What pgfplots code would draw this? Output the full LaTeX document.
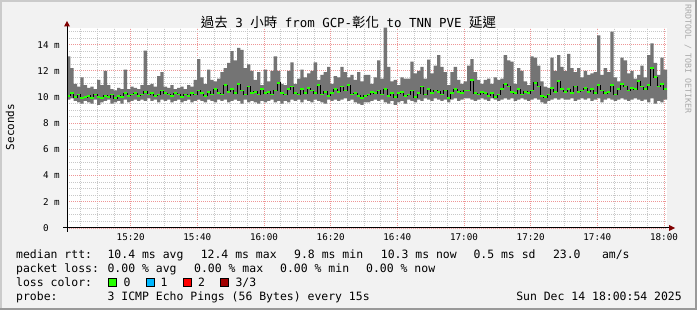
\documentclass[border=0pt]{standalone}
\usepackage{pgfplots}
\pgfplotsset{compat=1.18}
\usepackage{pgfplotstable}
\usepackage{fontspec}
\setmainfont{DejaVu Sans Mono}
\newfontfamily\cjk{Noto Sans CJK TC}
\definecolor{bgc}{HTML}{F2F2F2}
\definecolor{shadea}{HTML}{CBCBCB}
\definecolor{shadeb}{HTML}{999999}
\definecolor{mgrid}{RGB}{238,150,150}
\definecolor{ngrid}{RGB}{200,200,200}
\definecolor{smoke}{HTML}{747474}
\definecolor{lgreen}{HTML}{26FF00}
\definecolor{lblue}{HTML}{00B8FF}
\definecolor{lred}{HTML}{FF0000}
\definecolor{ldred}{HTML}{A10000}
\definecolor{arrowc}{HTML}{800000}
\definecolor{wmark}{HTML}{AAAAAA}
\newcommand\cj[1]{{\cjk\fontsize{13.5}{15}\selectfont #1}}
\newcommand\legf{\fontsize{11.5}{13}\selectfont}

\pgfplotstableread{
x lo hi med
0.9 9.8 13.1 10.1
1.9 9.9 12.2 10.3
2.9 9.7 11.0 10.0
3.9 9.6 10.8 10.2
4.9 9.5 11.5 9.9
5.9 9.7 10.9 10.0
6.9 9.6 10.7 10.1
7.9 9.5 10.8 9.9
8.9 9.8 10.6 10.2
9.9 9.4 11.3 10.0
10.9 9.6 10.9 9.9
11.9 9.7 12.0 10.1
12.9 9.8 10.9 10.0
13.9 9.5 10.6 10.2
14.9 9.6 10.5 9.9
15.9 9.7 10.7 10.1
16.9 9.5 10.6 10.0
17.9 9.8 12.1 10.3
18.9 9.6 10.6 10.1
19.9 9.7 10.8 10.2
20.9 9.8 10.7 10.3
21.9 9.7 10.6 10.1
22.9 9.8 10.9 10.2
23.9 9.7 13.55 10.4
24.9 9.9 10.9 10.2
25.9 9.7 11.0 10.3
26.9 9.8 10.8 10.1
27.9 9.6 11.6 10.2
28.9 9.8 11.9 10.5
29.9 9.7 10.8 10.3
30.9 9.8 10.7 10.2
31.9 9.6 10.9 10.1
32.9 9.7 10.6 10.3
33.9 9.8 10.7 10.2
34.9 9.6 10.8 10.0
35.9 9.7 10.6 10.2
36.9 9.8 10.9 10.1
37.9 9.6 10.8 10.3
38.9 9.7 11.3 10.2
39.9 9.8 12.9 10.5
40.9 9.7 11.5 10.3
41.9 9.6 11.0 10.1
42.9 9.8 12.1 10.4
43.9 9.7 11.3 10.2
44.9 9.6 11.2 10.6
45.9 9.8 11.4 10.3
46.9 9.7 11.9 10.2
47.9 9.8 12.2 10.9
48.9 9.6 12.6 10.4
49.9 9.7 13.5 10.6
50.9 9.8 12.8 10.3
51.9 9.7 13.75 11.0
52.9 9.5 13.6 10.5
53.9 9.8 12.2 10.2
54.9 9.6 12.5 10.8
55.9 9.7 12.0 10.3
56.9 9.6 11.3 10.4
57.9 9.5 11.9 10.2
58.9 9.7 10.9 10.6
59.9 9.6 12.1 10.3
60.9 9.7 11.2 10.4
61.9 9.8 12.0 10.2
62.9 9.6 13.1 10.5
63.9 9.7 12.0 11.1
64.9 9.5 11.0 10.3
65.9 9.7 10.9 10.2
66.9 9.6 12.0 10.6
67.9 9.8 12.65 10.8
68.9 9.7 11.0 10.3
69.9 9.8 11.4 10.2
70.9 9.6 12.1 10.6
71.9 9.8 11.5 10.3
72.9 9.7 11.8 10.7
73.9 9.6 12.0 10.5
74.9 9.8 12.65 10.3
75.9 9.7 11.3 10.9
76.9 9.6 11.7 10.2
77.9 9.5 11.9 10.4
78.9 9.8 12.3 10.1
79.9 9.7 11.0 10.3
80.9 9.8 11.6 10.6
81.9 9.7 11.5 10.4
82.9 9.8 12.3 10.8
83.9 9.9 11.9 10.5
84.9 9.7 11.5 10.9
85.9 9.8 11.7 10.2
86.9 9.6 11.3 10.3
87.9 9.5 11.9 10.1
88.9 9.4 11.2 9.9
89.9 9.6 11.7 10.1
90.9 9.6 11.7 10.2
91.9 9.7 11.0 10.4
92.9 9.8 11.5 10.3
93.9 9.7 12.8 10.5
94.9 9.8 11.4 10.2
95.9 9.6 15.3 10.6
96.9 9.5 12.3 10.1
97.9 9.7 11.2 10.3
98.9 9.4 11.3 10.0
99.9 9.6 10.9 10.3
100.9 9.7 11.5 10.4
101.9 9.5 11.4 10.1
102.9 9.8 11.4 10.2
103.9 9.7 12.7 10.5
104.9 9.6 11.8 10.0
105.9 9.8 12.0 10.3
106.9 9.7 12.3 10.8
107.9 9.9 11.4 10.2
108.9 9.8 12.85 10.6
109.9 9.7 11.8 10.3
110.9 9.9 12.4 10.5
111.9 9.8 13.2 10.4
112.9 9.7 12.3 10.2
113.9 9.8 11.9 10.5
114.9 9.6 10.9 9.9
115.9 9.8 11.9 10.3
116.9 9.9 12.3 10.6
117.9 9.7 11.3 10.4
118.9 9.8 11.0 10.3
119.9 9.9 11.2 10.5
120.9 9.9 12.4 10.5
121.9 9.8 12.9 11.3
122.9 9.7 11.9 10.3
123.9 9.8 11.3 10.2
124.9 9.9 11.0 10.4
125.9 9.8 11.3 10.3
126.9 9.7 11.4 10.1
127.9 9.9 11.0 10.3
128.9 9.8 11.5 10.0
129.9 9.7 11.3 10.2
130.9 9.8 11.4 10.6
131.9 9.9 13.2 11.0
132.9 9.8 12.8 10.8
133.9 9.9 12.7 10.4
134.9 9.7 11.0 10.3
135.9 9.8 12.2 10.6
136.9 9.9 12.0 10.2
137.9 9.8 11.2 10.4
138.9 9.7 10.9 10.3
139.9 9.8 13.1 10.5
140.9 9.9 13.0 11.1
141.9 9.8 12.4 10.8
142.9 9.6 11.2 10.1
143.9 9.5 10.8 10.0
144.9 9.7 10.7 10.2
145.9 9.8 13.0 10.7
146.9 9.9 12.0 10.4
147.9 9.8 13.2 11.2
148.9 9.9 12.3 10.6
149.9 9.8 12.0 10.4
150.9 9.8 13.3 10.6
151.9 9.9 12.2 10.3
152.9 9.7 11.9 10.8
153.9 9.8 12.2 10.4
154.9 9.9 11.5 10.5
155.9 9.8 12.0 10.7
156.9 9.9 11.7 10.4
157.9 9.7 11.8 10.6
158.9 9.8 11.9 10.3
159.9 9.9 14.7 10.9
160.9 9.6 11.7 10.5
161.9 9.8 12.2 10.3
162.9 9.9 11.9 10.4
163.9 9.8 15.0 10.9
164.9 9.7 11.5 10.2
165.9 9.8 11.2 10.6
166.9 9.9 13.0 11.0
167.9 9.8 12.8 10.8
168.9 9.7 11.8 10.5
169.9 9.8 12.0 10.7
170.9 9.9 11.4 10.6
171.9 9.8 11.7 11.2
172.9 9.7 12.4 10.8
173.9 9.8 11.5 10.6
174.9 9.6 13.2 10.9
175.9 9.9 14.1 12.2
176.9 9.5 12.6 11.5
177.9 9.7 11.7 10.8
178.9 9.6 13.0 11.0
179.9 9.8 12.1 10.6
180.9 9.8 12.1 10.6
}\rtt

\begin{document}
\begin{tikzpicture}
% background and 3D frame
\begin{scope}[x=1bp,y=1bp]
\fill[bgc] (0,0) rectangle (697,310);
\fill[shadea] (0,308) rectangle (697,310);
\fill[shadea] (0,0) rectangle (2,310);
\fill[shadeb] (0,0) rectangle (697,2);
\fill[shadeb] (695,0) rectangle (697,310);
\end{scope}

\begin{axis}[
  at={(67bp,82bp)}, anchor=south west,
  scale only axis, width=600bp, height=200bp,
  xmin=0.9, xmax=180.9, ymin=0, ymax=15.27,
  axis background/.style={fill=white},
  axis line style={draw=none},
  major tick length=0pt, minor tick length=0pt,
  xtick={20,40,60,80,100,120,140,160,180},
  xticklabels={15:20,15:40,16:00,16:20,16:40,17:00,17:20,17:40,18:00},
  minor xtick={5,10,15,25,30,35,45,50,55,65,70,75,85,90,95,105,110,115,125,130,135,145,150,155,165,170,175},
  ytick={0,2,4,6,8,10,12,14},
  yticklabels={{0\hphantom{\ m}},2 m,4 m,6 m,8 m,10 m,12 m,14 m},
  minor ytick={0.5,1,1.5,2.5,3,3.5,4.5,5,5.5,6.5,7,7.5,8.5,9,9.5,10.5,11,11.5,12.5,13,13.5,14.5,15},
  grid=both,
  major grid style={draw=mgrid, line width=0.9bp, dash pattern=on 1bp off 1bp},
  minor grid style={draw=ngrid, line width=0.9bp, dash pattern=on 1bp off 1bp},
  ticklabel style={font=\fontsize{9.3}{11}\selectfont, inner sep=0pt},
  xticklabel style={anchor=north, yshift=-5.5bp},
  yticklabel style={anchor=east, xshift=-7bp},
]
\addplot[draw=none, fill=none, const plot mark left, stack plots=y] table[x=x,y=lo]{\rtt};
\addplot[draw=none, fill=smoke, const plot mark left, stack plots=y] table[x=x,y expr=\thisrow{hi}-\thisrow{lo}]{\rtt} \closedcycle;
\addplot[const plot mark left, draw=black, line width=0.6bp, stack plots=false] table[x=x,y=med]{\rtt};
\addplot[jump mark left, draw=lgreen, line width=1.8bp, stack plots=false] table[x=x,y=med]{\rtt};
\end{axis}

\begin{scope}[x=1bp,y=1bp]
% axes with arrows
\draw[black, line width=1bp] (63,82) -- (670,82);
\fill[arrowc] (675,82) -- (669,85) -- (669,79) -- cycle;
\draw[black, line width=1bp] (67,78) -- (67,285);
\fill[arrowc] (67,289) -- (64,283.5) -- (70,283.5) -- cycle;

% title
\node[anchor=base, inner sep=0pt, font=\fontsize{12.5}{14}\selectfont] at (348.5,283)
  {\cj{過去} 3 \cj{小時} from GCP-\cj{彰化} to TNN PVE \cj{延遲}};

% y label
\node[rotate=90, inner sep=0pt, font=\fontsize{11}{13}\selectfont] at (10,183) {Seconds};

% watermark
\node[rotate=-90, anchor=west, inner sep=0pt, text=wmark, font=\fontsize{8.3}{9}\selectfont] at (688,306) {RRDTOOL / TOBI OETIKER};

% legend
\begin{scope}[every node/.style={anchor=base west, inner sep=0pt, font=\legf}]
\node at (16,52) {median rtt:};
\node at (107.4,52) {10.4 ms avg};
\node at (200.6,52) {12.4 ms max};
\node at (294,52) {9.8 ms min};
\node at (380.7,52) {10.3 ms now};
\node at (473.3,52) {0.5 ms sd};
\node at (552.8,52) {23.0};
\node at (601.8,52) {am/s};

\node at (16,38) {packet loss:};
\node at (107.4,38) {0.00 \% avg};
\node at (194,38) {0.00 \% max};
\node at (280,38) {0.00 \% min};
\node at (366,38) {0.00 \% now};

\node at (16,24) {loss color:};
\node at (123.5,24) {0};
\node at (160.5,24) {1};
\node at (198,24) {2};
\node at (235.4,24) {3/3};

\node at (16,10) {probe:};
\node at (107.4,10) {3 ICMP Echo Pings (56 Bytes) every 15s};
\node[anchor=base east] at (682,10) {Sun Dec 14 18:00:54 2025};
\end{scope}
\filldraw[fill=lgreen, draw=black, line width=0.6bp] (108.5,23.5) rectangle (116.5,32);
\filldraw[fill=lblue, draw=black, line width=0.6bp] (146,23.5) rectangle (154,32);
\filldraw[fill=lred, draw=black, line width=0.6bp] (183,23.5) rectangle (191,32);
\filldraw[fill=ldred, draw=black, line width=0.6bp] (220.5,23.5) rectangle (228.5,32);
\end{scope}

\pgfresetboundingbox
\useasboundingbox (0,0) rectangle (697bp,310bp);
\end{tikzpicture}
\end{document}
